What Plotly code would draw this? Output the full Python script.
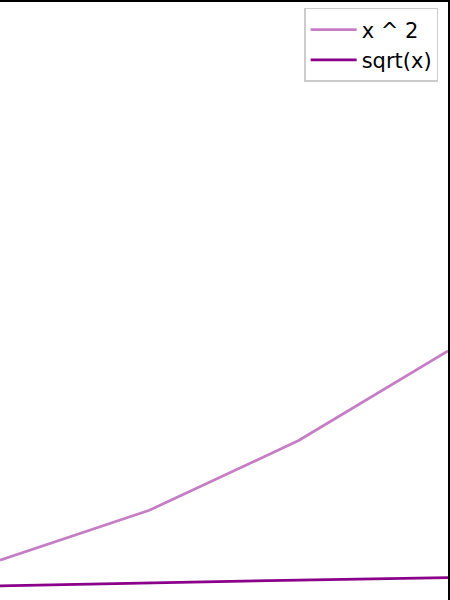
import plotly.graph_objects as go

x_vals = [2, 3, 4, 5]
x_squared = [4, 9, 16, 25]
x_sqrt = [1.414, 1.732, 2.0, 2.236]

fig = go.Figure()
fig.add_trace(
    go.Scatter(
        x=x_vals,
        y=x_squared,
        name="x ^ 2",
        mode="lines",
        line=dict(color="#c57dc5", width=2.7),
    )
)
fig.add_trace(
    go.Scatter(
        x=x_vals,
        y=x_sqrt,
        name="sqrt(x)",
        mode="lines",
        line=dict(color="#8b008b", width=2.7),
    )
)

axis_style = dict(
    showgrid=False,
    zeroline=False,
    showticklabels=False,
    ticks="",
    showline=True,
    linecolor="black",
    linewidth=1.5,
    mirror=True,
)
fig.update_xaxes(range=[2, 5], **axis_style)
fig.update_yaxes(range=[0, 60], **axis_style)

fig.update_layout(
    width=450,
    height=600,
    margin=dict(l=0, r=0, t=0, b=0),
    plot_bgcolor="white",
    paper_bgcolor="white",
    font=dict(family="DejaVu Sans", size=21, color="black"),
    legend=dict(
        x=0.978,
        y=0.99,
        xanchor="right",
        yanchor="top",
        bgcolor="white",
        bordercolor="#cccccc",
        borderwidth=1.5,
        itemwidth=46,
        tracegroupgap=0,
    ),
)

# drop the page margin so the plot sits at the window corner
fig.write_html(
    "out.html",
    config={"displayModeBar": False},
    post_script="document.body.style.margin='0px';document.body.style.overflow='hidden';",
)
